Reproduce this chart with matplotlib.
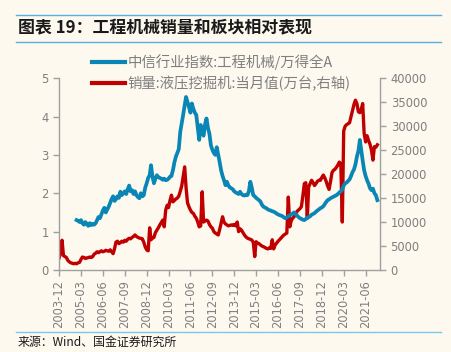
import numpy as np
import pandas as pd
from matplotlib import pyplot as plt
from matplotlib.lines import Line2D

plt.rcParams['font.family'] = ['DejaVu Sans', 'Noto Sans CJK SC']

# monthly data, 2003-12 onwards
start_month = "2003-12"
# excavator sales (right axis), one row per 12 months
excavator = [
    2500, 3500, 6200, 3000, 2800, 2600, 2000, 1700, 1500, 1400, 1300, 1400,
    1300, 1500, 1600, 2200, 2700, 2600, 2400, 2500, 2600, 2700, 2600, 2800,
    3300, 3500, 3800, 3600, 3800, 4000, 3800, 3900, 4100, 4000, 3900, 4200,
    3800, 3400, 4500, 5800, 6000, 5500, 5700, 6000, 5800, 6200, 6000, 6400,
    6600, 6500, 6800, 7000, 7300, 7000, 6800, 6650, 6600, 6500, 5800, 4800,
    4200, 4000, 8800, 6300, 6650, 6800, 7800, 8300, 8800, 9400, 9900, 10400,
    9000, 12500, 13500, 13000, 14500, 15600, 14200, 14500, 14800, 15000, 15400, 16400,
    17500, 19500, 21500, 17300, 14000, 13200, 12500, 12000, 11800, 11200, 10800, 10000,
    9000, 9200, 16300, 10000, 10200, 10400, 10200, 9500, 9000, 8700, 8000, 7700,
    7500, 7300, 8500, 9700, 11100, 10000, 9600, 9400, 9200, 9300, 9400, 9300,
    9500, 9200, 10000, 8000, 8600, 8300, 7800, 7300, 6900, 6650, 6500, 6400,
    6250, 5800, 2800, 5900, 5600, 5500, 5200, 5000, 4850, 4700, 4500, 4400,
    4600, 4500, 6300, 4400, 5200, 5600, 6000, 6300, 6650, 7000, 7300, 7500,
    7700, 15200, 9000, 10200, 10800, 11100, 11600, 12200, 12500, 12800, 13200, 15500,
    18000, 18200, 10800, 17300, 18000, 18700, 18200, 17600, 18000, 18500, 18700, 18700,
    19300, 19800, 19200, 18500, 17500, 16800, 18500, 20300, 20800, 21000, 21400, 21900,
    22500, 22000, 10000, 29000, 30000, 30300, 30500, 30700, 32000, 33300, 34500, 35400,
    34700, 33000, 32800, 33500, 34700, 28500, 26700, 28000, 27000, 26200, 25000, 22900,
    25700, 25600, 26100,
]
# industry index relative to Wind All A (left axis), from 2004-12
index_start = "2004-12"
rel_index = [
    1.30, 1.28, 1.25, 1.30, 1.22, 1.18, 1.25, 1.20, 1.15, 1.22, 1.17, 1.20,
    1.18, 1.22, 1.30, 1.38, 1.35, 1.45, 1.55, 1.62, 1.50, 1.58, 1.65, 1.75,
    1.85, 1.92, 1.80, 1.85, 1.92, 1.88, 2.04, 1.95, 2.00, 2.05, 1.98, 2.10,
    2.20, 2.05, 2.08, 1.98, 2.05, 1.95, 1.90, 1.87, 2.00, 1.92, 1.95, 2.15,
    2.26, 2.40, 2.47, 2.73, 2.43, 2.26, 2.38, 2.47, 2.42, 2.40, 2.38, 2.35,
    2.38, 2.34, 2.35, 2.38, 2.43, 2.45, 2.60, 2.80, 2.95, 3.05, 3.15, 3.60,
    3.82, 4.05, 4.30, 4.51, 4.38, 4.25, 4.10, 4.34, 4.20, 4.10, 4.04, 3.70,
    3.39, 3.78, 3.60, 3.50, 3.80, 3.95, 3.70, 3.55, 3.25, 3.13, 3.05, 3.00,
    3.20, 3.00, 2.80, 2.60, 2.45, 2.34, 2.21, 2.30, 2.20, 2.15, 2.13, 2.10,
    2.05, 2.02, 2.00, 1.98, 2.04, 1.98, 1.95, 1.94, 1.96, 1.95, 2.05, 2.30,
    2.15, 1.95, 1.92, 1.88, 1.85, 1.82, 1.78, 1.70, 1.65, 1.63, 1.61, 1.58,
    1.56, 1.55, 1.53, 1.52, 1.50, 1.47, 1.45, 1.43, 1.42, 1.40, 1.37, 1.35,
    1.37, 1.40, 1.42, 1.45, 1.47, 1.50, 1.46, 1.42, 1.38, 1.35, 1.33, 1.31,
    1.30, 1.33, 1.36, 1.38, 1.40, 1.44, 1.46, 1.48, 1.52, 1.55, 1.58, 1.61,
    1.63, 1.66, 1.72, 1.77, 1.82, 1.84, 1.87, 1.89, 1.91, 1.93, 1.95, 1.98,
    2.02, 2.05, 2.10, 2.20, 2.26, 2.28, 2.32, 2.36, 2.45, 2.55, 2.62, 2.75,
    2.95, 3.10, 3.39, 3.13, 2.85, 2.60, 2.45, 2.34, 2.25, 2.13, 2.08, 2.12,
    2.00, 1.95, 1.82,
]
tick_labels = ["2003-12", "2005-03", "2006-06", "2007-09", "2008-12", "2010-03",
               "2011-06", "2012-09", "2013-12", "2015-03", "2016-06", "2017-09",
               "2018-12", "2020-03", "2021-06"]

bg = "#fdf9ef"
blue = "#0a86b6"
red = "#c00000"
grey = "#7f7f7f"

months_red = pd.date_range(start_month, periods=len(excavator), freq="MS")
months_blue = pd.date_range(index_start, periods=len(rel_index), freq="MS")
tick_pos = pd.to_datetime(tick_labels)

fig = plt.figure(figsize=(4.51, 3.52), dpi=100, facecolor=bg)
ax1 = fig.add_axes([0.131, 0.233, 0.712, 0.545], facecolor=bg)
ax2 = ax1.twinx()

ax1.plot(months_blue, rel_index, color=blue, lw=2.7, zorder=3)
ax2.plot(months_red, excavator, color=red, lw=2.4)
ax1.set_zorder(ax2.get_zorder() + 1)
ax1.patch.set_visible(False)
ax2.patch.set_facecolor(bg)

ax1.set_ylim(0, 5)
ax1.set_yticks(np.arange(0, 6, 1))
ax2.set_ylim(0, 40000)
ax2.set_yticks(np.arange(0, 40001, 5000))
ax1.set_xlim(pd.Timestamp("2003-12-01"), pd.Timestamp("2022-04-01"))
ax1.set_xticks(tick_pos)
ax1.set_xticklabels(tick_labels, rotation=90)

for ax in (ax1, ax2):
    ax.spines["top"].set_visible(False)
    for s in ("left", "right", "bottom"):
        ax.spines[s].set_color("#a0a0a0")
        ax.spines[s].set_linewidth(1.0)
    ax.tick_params(colors="#a0a0a0", labelcolor=grey, labelsize=8.3, length=4, width=1.0)
ax1.spines["right"].set_visible(False)
ax2.spines["left"].set_visible(False)
ax2.spines["bottom"].set_visible(False)

handles = [Line2D([], [], color=blue, lw=3), Line2D([], [], color=red, lw=3)]
fig.legend(handles, ["中信行业指数:工程机械/万得全A", "销量:液压挖掘机:当月值(万台,右轴)"],
           loc="upper left", bbox_to_anchor=(0.203, 0.846), frameon=False, borderpad=0,
           prop={"family": ["Noto Sans CJK SC"], "size": 10.4}, labelcolor=grey,
           handlelength=2.3, handletextpad=0.2, labelspacing=0.36, borderaxespad=0)

# title box lines and source
fig.add_artist(Line2D([0.035, 0.978], [1 - 15 / 352] * 2, color="#5aaee0", lw=1.0))
fig.add_artist(Line2D([0.035, 0.978], [1 - 41.5 / 352] * 2, color="#5aaee0", lw=1.0))
fig.add_artist(Line2D([0.035, 0.978], [1 - 331.5 / 352] * 2, color="#7cc8ec", lw=1.0))
fig.text(0.04, 1 - 28 / 352, "图表 19：工程机械销量和板块相对表现", fontsize=12.2,
         fontweight="bold", style="italic", family=["Noto Sans CJK SC"], va="center", color="#1a1a1a")
fig.text(0.038, 1 - 342 / 352, "来源：Wind、国金证券研究所", fontsize=8.6,
         family=["Noto Sans CJK SC"], va="center", color="#1a1a1a")

fig.savefig("out.png", dpi=100, facecolor=bg)
